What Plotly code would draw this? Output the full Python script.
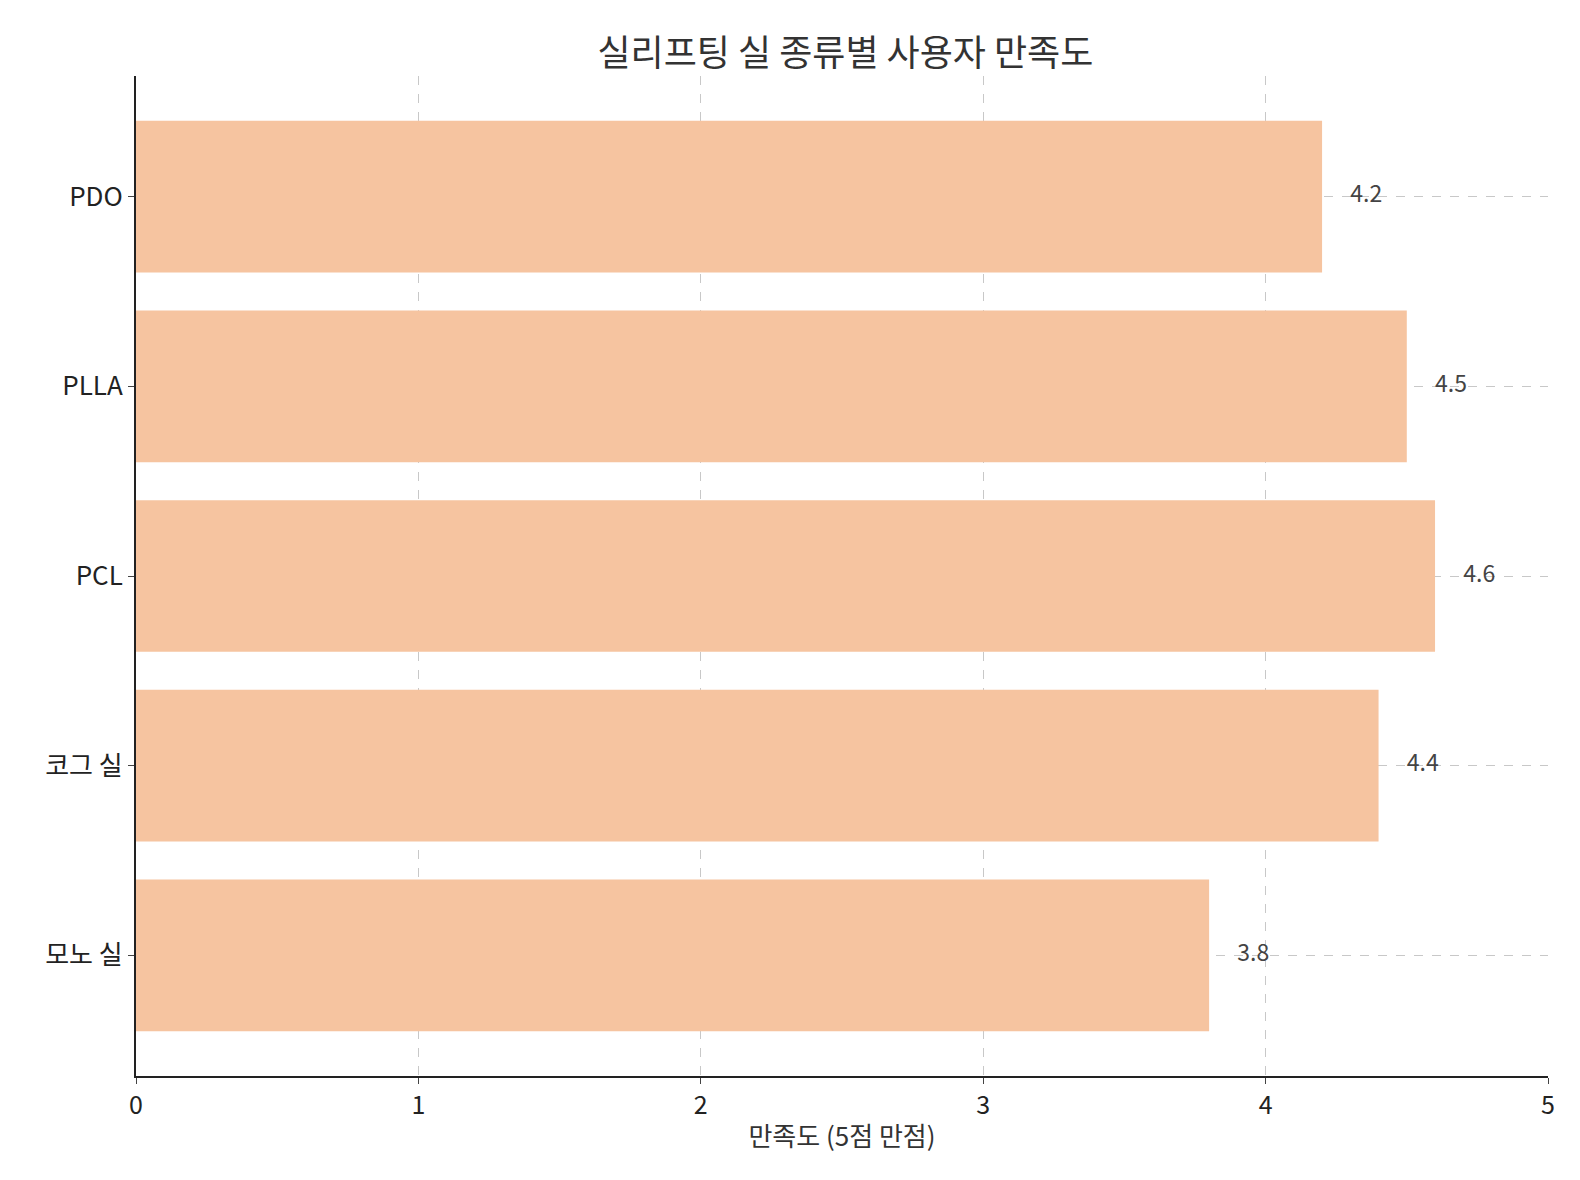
import plotly.graph_objects as go

categories = ["모노 실", "코그 실", "PCL", "PLLA", "PDO"]
values = [3.8, 4.4, 4.6, 4.5, 4.2]
labels = ["3.8", "4.4", "4.6", "4.5", "4.2"]

font = "Noto Sans CJK KR"
fig = go.Figure()
fig.add_trace(go.Bar(y=categories, x=values, orientation="h", width=0.8,
                     marker=dict(color="#f6c4a0", line=dict(width=0))))
fig.add_trace(go.Scatter(y=categories, x=[v + 0.1 for v in values], mode="text",
                         text=labels, textposition="middle right",
                         textfont=dict(size=23, color="#444", family=font)))
fig.update_layout(
    width=1580, height=1180, showlegend=False,
    plot_bgcolor="white", paper_bgcolor="white",
    margin=dict(l=128, r=40, t=68, b=112),
    title=dict(text="실리프팅 실 종류별 사용자 만족도", x=0.53, xanchor="center", y=0.972,
               font=dict(size=36, color="#333", family=font)),
    font=dict(family=font, color="#222"),
)
fig.update_xaxes(range=[0, 5], dtick=1, showgrid=True, gridcolor="#c8c8c8", griddash="dash",
                 showline=True, linecolor="#222", linewidth=2, ticks="outside", ticklen=6,
                 tickfont=dict(size=25), zeroline=False, layer="above traces",
                 title=dict(text="만족도 (5점 만점)", font=dict(size=26, color="#333"), standoff=8))
fig.update_yaxes(range=[-0.636, 4.636], showgrid=True, gridcolor="#c8c8c8", griddash="dash",
                 showline=True, linecolor="#222", linewidth=2, ticks="outside", ticklen=6,
                 tickfont=dict(size=26), categoryorder="array", categoryarray=categories,
                 layer="above traces")
fig.write_html("out.html")
